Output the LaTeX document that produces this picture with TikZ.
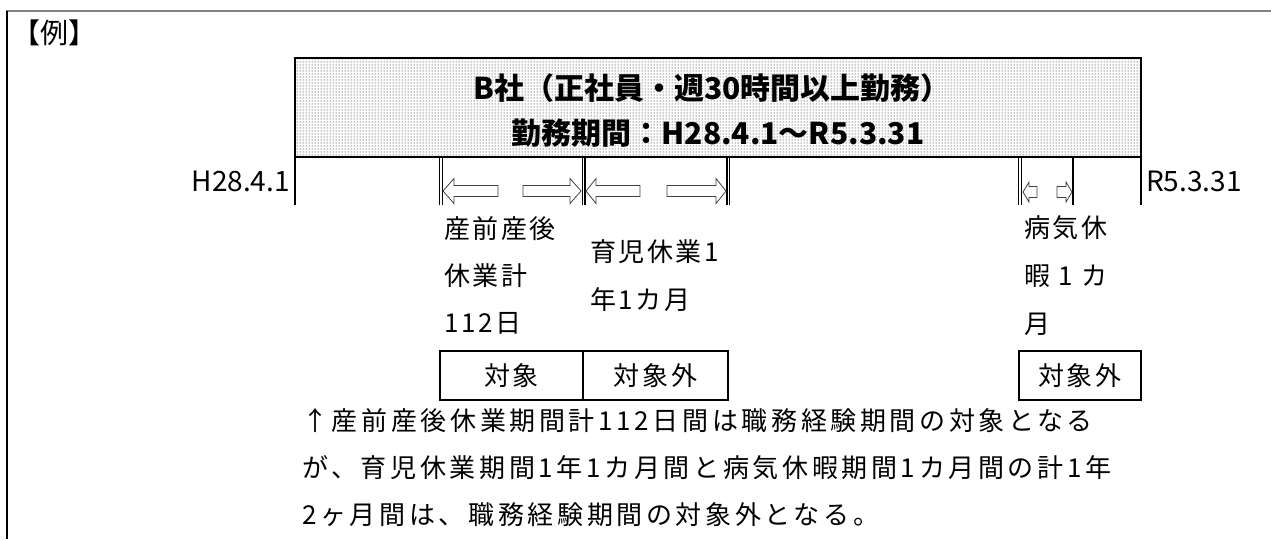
\documentclass[tikz,border=0pt]{standalone}
\usepackage{fontspec}
\setmainfont{Noto Sans CJK JP}
\newfontfamily\jpsp[LetterSpace=10]{Noto Sans CJK JP}
\newfontfamily\jpwide[LetterSpace=14]{Noto Sans CJK JP}
\usetikzlibrary{patterns}
\tikzset{
  lbl/.style={anchor=west, inner sep=0pt, font=\jpsp\fontsize{26}{26}\selectfont},
  expl/.style={anchor=west, inner sep=0pt, font=\jpwide\fontsize{26}{26}\selectfont},
  datel/.style={inner sep=0pt, font=\fontsize{28}{28}\selectfont},
  ttl/.style={inner sep=0pt, font=\bfseries\fontsize{30}{30}\selectfont},
  tick/.style={line width=2pt},
  dbl/.style={line width=1.2pt},
  blk/.style={draw=black!75, fill=white, line width=0.8pt, line join=miter},
  catbox/.style={draw, line width=2.7pt, minimum height=49pt, inner sep=0pt,
    font=\jpsp\fontsize{26}{26}\selectfont},
  mainbox/.style={draw, line width=2pt, pattern=dots, pattern color=black,
    inner sep=0pt, minimum width=846pt, minimum height=99pt},
}
\begin{document}
\begin{tikzpicture}[x=1pt,y=-1pt]
\useasboundingbox (0,0) rectangle (1271,539);
% frame
\coordinate (ftl) at (7,11);
\coordinate (ftr) at (1271,11);
\coordinate (fbl) at (7,539);
\draw[line width=2pt, black!50] (6,11) -- (ftr);
\draw[line width=2pt] (ftl) -- (fbl);
\node[anchor=west, inner sep=0pt, font=\fontsize{28}{28}\selectfont] (rei) at (12,33) {【例】};
% main box
\node[mainbox] (mb) at (718,107.5) {};
\node[ttl] (t1) at (712,88) {B社（正社員・週30時間以上勤務）};
\node[ttl] (t2) at (718,133) {勤務期間：H28.4.1～R5.3.31};
% ticks
\draw[tick] (295,157) -- (295,205);
\draw[tick] (1141,157) -- (1141,205);
\foreach \x in {439.4,442.2,582.2,585,727,729.8,1018.8,1021.6}
  \draw[dbl] (\x,157) -- (\x,205);
\draw[tick] (1073,157) -- (1073,205);
% dates
\node[datel, anchor=east] (d1) at (290,181) {H28.4.1};
\node[datel, anchor=west] (d2) at (1146,181) {R5.3.31};
% block arrows
\draw[blk] (443,191) -- (454,178.5) -- (454,185.5) -- (498,185.5) -- (498,196.5) -- (454,196.5) -- (454,203.5) -- cycle;
\draw[blk] (581,191) -- (570,178.5) -- (570,185.5) -- (523,185.5) -- (523,196.5) -- (570,196.5) -- (570,203.5) -- cycle;
\draw[blk] (586,191) -- (596,178.5) -- (596,185.5) -- (640,185.5) -- (640,196.5) -- (596,196.5) -- (596,203.5) -- cycle;
\draw[blk] (726,191) -- (716,178.5) -- (716,185.5) -- (667,185.5) -- (667,196.5) -- (716,196.5) -- (716,203.5) -- cycle;
\draw[blk] (1023,192) -- (1029,182) -- (1029,186.5) -- (1037,186.5) -- (1037,197.5) -- (1029,197.5) -- (1029,202) -- cycle;
\draw[blk] (1072,192) -- (1066,182) -- (1066,186.5) -- (1057,186.5) -- (1057,197.5) -- (1066,197.5) -- (1066,202) -- cycle;
% labels
\node[lbl] (a1) at (444,229) {産前産後};
\node[lbl] (a2) at (444,276) {休業計};
\node[lbl] (a3) at (444,323) {112日};
\node[lbl] (b1) at (590,252) {育児休業1};
\node[lbl] (b2) at (590,300) {年1カ月};
\node[lbl] (c1) at (1024,228) {病気休};
\node[lbl] (c2) at (1024,276) {暇 1 カ};
\node[lbl] (c3) at (1024,324) {月};
% category boxes
\node[catbox, minimum width=143pt] (k1) at (511.5,375.5) {対象};
\node[catbox, minimum width=145pt] (k2) at (655.5,375.5) {対象外};
\node[catbox, minimum width=122pt] (k3) at (1080,375.5) {対象外};
% explanation
\node[expl] (e1) at (302,421) {↑産前産後休業期間計112日間は職務経験期間の対象となる};
\node[expl] (e2) at (302,468) {が、育児休業期間1年1カ月間と病気休暇期間1カ月間の計1年};
\node[expl] (e3) at (302,515) {2ヶ月間は、職務経験期間の対象外となる。};
\end{tikzpicture}
\end{document}
